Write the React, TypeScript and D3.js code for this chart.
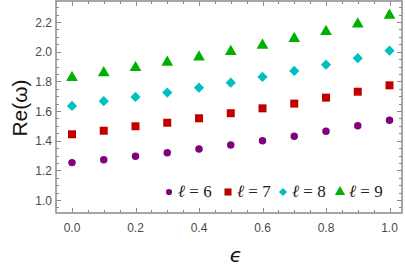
import * as d3 from "d3";
import React from "react";

// epsilon values on the x axis
const eps = [0, 0.1, 0.2, 0.3, 0.4, 0.5, 0.6, 0.7, 0.8, 0.9, 1.0];

// Re(omega) per multipole l
const l6 = [1.252, 1.272, 1.295, 1.319, 1.344, 1.371, 1.4, 1.43, 1.463, 1.5, 1.537];
const l7 = [1.443, 1.467, 1.497, 1.521, 1.551, 1.585, 1.618, 1.65, 1.69, 1.73, 1.773];
const l8 = [1.634, 1.666, 1.695, 1.724, 1.757, 1.791, 1.83, 1.87, 1.912, 1.956, 2.007];
const l9 = [1.825, 1.858, 1.892, 1.928, 1.964, 2.0, 2.043, 2.088, 2.135, 2.186, 2.245];

const xTickLabels = ["0.0", "0.2", "0.4", "0.6", "0.8", "1.0"];
const yTickLabels = ["1.0", "1.2", "1.4", "1.6", "1.8", "2.0", "2.2"];

const W = 405, H = 273;
const plot = { left: 56, right: 402, top: 1, bottom: 213 };

const x = d3.scaleLinear().domain([0, 1]).range([72, 389.5]);
const y = d3.scaleLinear().domain([1.0, 2.2]).range([200, 22]);

// diamond = square turned 45deg
const series = [
  { name: "6", vals: l6, color: "#800080", shape: d3.symbolCircle, rot: 0, size: 44, lsize: 30 },
  { name: "7", vals: l7, color: "#c00000", shape: d3.symbolSquare, rot: 0, size: 64, lsize: 50 },
  { name: "8", vals: l8, color: "#00bfbf", shape: d3.symbolSquare, rot: 45, size: 52, lsize: 34 },
  { name: "9", vals: l9, color: "#00b000", shape: d3.symbolTriangle, rot: 0, size: 60, lsize: 46 },
];

const legendX = [169, 228, 283, 340];

const frameColor = "#8a8a8a";
const labelColor = "#4a4a4a";

export default function App() {
  const xDom = [x.invert(plot.left), x.invert(plot.right)];
  const yDom = [y.invert(plot.bottom), y.invert(plot.top)];
  const xMinor = d3.range(0, 21).map(i => i * 0.05).filter(v => v >= xDom[0] && v <= xDom[1]);
  const yMinor = d3.range(18, 48).map(i => i * 0.05).filter(v => v >= yDom[0] && v <= yDom[1]);
  const isMajor = (v: number) => Math.abs(v * 5 - Math.round(v * 5)) < 1e-6;

  return (
    <svg width={W} height={H} style={{ position: "absolute", left: 0, top: 0, background: "#fff" }}>
      {/* ticks */}
      <g stroke={frameColor} strokeWidth={1}>
        {xMinor.map((v, i) => {
          const len = isMajor(v) ? 5 : 3;
          const px = Math.round(x(v)) + 0.5;
          return (
            <g key={"xt" + i}>
              <line x1={px} x2={px} y1={plot.bottom} y2={plot.bottom - len} />
              <line x1={px} x2={px} y1={plot.top} y2={plot.top + len} />
            </g>
          );
        })}
        {yMinor.map((v, i) => {
          const len = isMajor(v) ? 5 : 3;
          const py = Math.round(y(v)) + 0.5;
          return (
            <g key={"yt" + i}>
              <line x1={plot.left} x2={plot.left + len} y1={py} y2={py} />
              <line x1={plot.right} x2={plot.right - len} y1={py} y2={py} />
            </g>
          );
        })}
      </g>
      <rect x={plot.left} y={plot.top} width={plot.right - plot.left} height={plot.bottom - plot.top}
        fill="none" stroke={frameColor} strokeWidth={1.5} />

      {/* tick labels */}
      <g fontFamily="Liberation Sans, Arial, sans-serif" fontSize={12} fill={labelColor}>
        {xTickLabels.map(t => (
          <text key={"xl" + t} x={x(+t)} y={232} textAnchor="middle">{t}</text>
        ))}
        {yTickLabels.map(t => (
          <text key={"yl" + t} x={52} y={y(+t) + 4.5} textAnchor="end">{t}</text>
        ))}
      </g>

      {/* axis titles */}
      <text x={0} y={0} transform="translate(27,108) rotate(-90)" textAnchor="middle"
        fontFamily="Liberation Sans, Arial, sans-serif" fontSize={21} fill="#111">
        Re(ω)
      </text>
      <text x={236} y={262} textAnchor="middle" fontFamily="DejaVu Sans, sans-serif"
        fontStyle="italic" fontSize={20} fill="#111">ϵ</text>

      {/* points */}
      {series.map(s => (
        <g key={s.name} fill={s.color}>
          {s.vals.map((v, i) => (
            <path key={i} transform={`translate(${x(eps[i])},${y(v)}) rotate(${s.rot})`}
              d={d3.symbol().type(s.shape).size(s.size)() || ""} />
          ))}
        </g>
      ))}

      {/* legend */}
      <g fontFamily="Liberation Serif, DejaVu Serif, serif" fontSize={17} fill="#222">
        {series.map((s, i) => (
          <g key={"lg" + s.name}>
            <path transform={`translate(${legendX[i]},192) rotate(${s.rot})`} fill={s.color}
              d={d3.symbol().type(s.shape).size(s.lsize)() || ""} />
            <text x={legendX[i] + 9} y={197}>
              <tspan fontStyle="italic">ℓ</tspan> = {s.name}
            </text>
          </g>
        ))}
      </g>
    </svg>
  );
}
